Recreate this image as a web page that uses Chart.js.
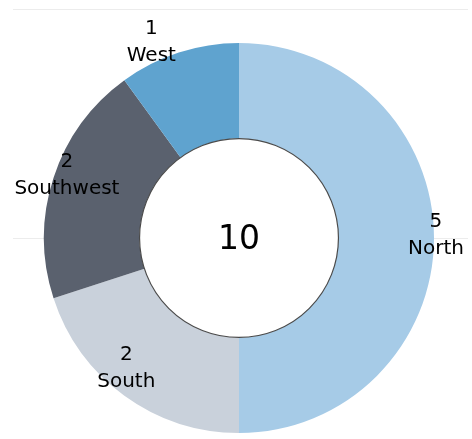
<!DOCTYPE html>
<html>
<head>
<meta charset="utf-8">
<script src="https://cdn.jsdelivr.net/npm/chart.js@4/dist/chart.umd.min.js"></script>
<style>
  html, body { margin: 0; padding: 0; background: #fff; }
  #wrap { width: 472px; height: 439px; position: relative; }
</style>
</head>
<body>
<div id="wrap"><canvas id="donut"></canvas></div>
<script>
// datos
const regions = ["North", "South", "Southwest", "West"];
const counts = [5, 2, 2, 1];
const sliceColors = ["#a6cbe7", "#c9d1db", "#5a616e", "#5fa3cf"];

// donde va cada etiqueta: fraccion dentro del arco y radio relativo
const labelPos = [
  { t: 0.495, r: 1.01 },
  { t: 0.57, r: 0.88 },
  { t: 0.53, r: 0.94 },
  { t: 0.33, r: 1.10 },
];

const FONT = "'DejaVu Sans', sans-serif";

// lineas grises del fondo
const fondo = {
  id: "fondo",
  beforeDraw(chart) {
    const ctx = chart.ctx;
    const arc = chart.getDatasetMeta(0).data[0];
    ctx.save();
    ctx.strokeStyle = "#ececec";
    ctx.lineWidth = 1;
    ctx.beginPath();
    ctx.moveTo(13, 9.5);
    ctx.lineTo(468, 9.5);
    ctx.moveTo(13, Math.round(arc.y) + 0.5);
    ctx.lineTo(468, Math.round(arc.y) + 0.5);
    ctx.stroke();
    ctx.restore();
  },
};

// centro, borde interior y etiquetas
const etiquetas = {
  id: "etiquetas",
  afterDatasetsDraw(chart) {
    const ctx = chart.ctx;
    const meta = chart.getDatasetMeta(0);
    const first = meta.data[0];
    const cx = first.x, cy = first.y;

    ctx.save();
    ctx.fillStyle = "#fff";
    ctx.strokeStyle = "#4a4a4a";
    ctx.lineWidth = 1.2;
    ctx.beginPath();
    ctx.arc(cx, cy, first.innerRadius, 0, Math.PI * 2);
    ctx.fill();
    ctx.stroke();

    const total = counts.reduce((a, b) => a + b, 0);
    ctx.fillStyle = "#000";
    ctx.textAlign = "center";
    ctx.textBaseline = "middle";
    ctx.font = "33px " + FONT;
    ctx.fillText(String(total), cx, cy + 2);

    ctx.font = "20px " + FONT;
    meta.data.forEach((a, i) => {
      const p = labelPos[i];
      const ang = a.startAngle + (a.endAngle - a.startAngle) * p.t;
      const x = cx + Math.cos(ang) * a.outerRadius * p.r;
      const y = cy + Math.sin(ang) * a.outerRadius * p.r;
      ctx.fillText(String(counts[i]), x, y - 13);
      ctx.fillText(regions[i], x, y + 14);
    });
    ctx.restore();
  },
};

new Chart(document.getElementById("donut"), {
  type: "doughnut",
  data: {
    labels: regions,
    datasets: [
      {
        data: counts,
        backgroundColor: sliceColors,
        borderWidth: 0,
      },
    ],
  },
  options: {
    responsive: true,
    maintainAspectRatio: false,
    animation: false,
    cutout: "51%",
    layout: { padding: { top: 43, bottom: 6, left: 44, right: 38 } },
    plugins: {
      legend: { display: false },
      tooltip: { enabled: false },
    },
  },
  plugins: [fondo, etiquetas],
});
</script>
</body>
</html>
